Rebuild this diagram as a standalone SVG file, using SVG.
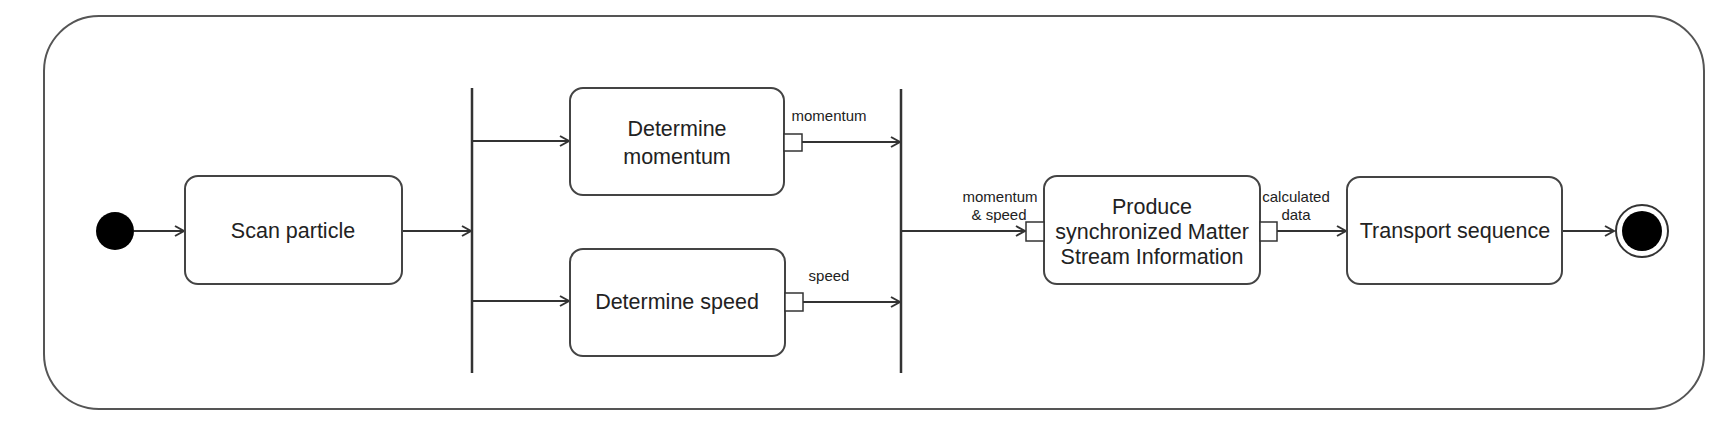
<svg xmlns="http://www.w3.org/2000/svg" width="1725" height="425" viewBox="0 0 1725 425">
<style>
.frame{fill:#fff;stroke:#555;stroke-width:2}
.act{fill:#fff;stroke:#444;stroke-width:2}
.pin{fill:#fff;stroke:#333;stroke-width:1.5}
.bar{stroke:#333;stroke-width:2.5}
.edge{fill:none;stroke:#333;stroke-width:2}
.t{font-family:"Liberation Sans",Arial,sans-serif;font-size:21.5px;fill:#222;text-anchor:middle;dominant-baseline:central}
.s{font-family:"Liberation Sans",Arial,sans-serif;font-size:15px;fill:#222;text-anchor:middle;dominant-baseline:central}
</style>
<defs>
<marker id="arr" markerWidth="12" markerHeight="12" refX="10" refY="6" orient="auto" markerUnits="userSpaceOnUse">
<path d="M1,1 L10,6 L1,11" fill="none" stroke="#333" stroke-width="2"/>
</marker>
</defs>
<rect width="1725" height="425" fill="#fff"/>
<g id="frame"><rect class="frame" x="44" y="16" width="1660" height="393" rx="55" ry="55"/></g>
<g id="connectors">
<line class="edge" x1="134" y1="231" x2="184" y2="231" marker-end="url(#arr)"/>
<line class="edge" x1="402" y1="231" x2="471" y2="231" marker-end="url(#arr)"/>
<line class="edge" x1="473" y1="141" x2="569" y2="141" marker-end="url(#arr)"/>
<line class="edge" x1="473" y1="301" x2="569" y2="301" marker-end="url(#arr)"/>
<line class="edge" x1="802" y1="142" x2="900" y2="142" marker-end="url(#arr)"/>
<line class="edge" x1="803" y1="302" x2="900" y2="302" marker-end="url(#arr)"/>
<line class="edge" x1="901" y1="231" x2="1025" y2="231" marker-end="url(#arr)"/>
<line class="edge" x1="1277" y1="231" x2="1346" y2="231" marker-end="url(#arr)"/>
<line class="edge" x1="1562" y1="231" x2="1614" y2="231" marker-end="url(#arr)"/>
</g>
<g id="initial"><circle cx="115" cy="231" r="19" fill="#000"/></g>
<g id="scan"><rect class="act" x="185" y="176" width="217" height="108" rx="13"/><text class="t" x="293" y="231">Scan particle</text></g>
<g id="fork1"><line class="bar" x1="472" y1="88" x2="472" y2="373"/></g>
<g id="momentum">
<rect class="act" x="570" y="88" width="214" height="107" rx="13"/>
<text class="t" x="677" y="129">Determine</text>
<text class="t" x="677" y="157">momentum</text>
<rect class="pin" x="784" y="134" width="18" height="17"/>
<text class="s" x="829" y="115">momentum</text>
</g>
<g id="speed">
<rect class="act" x="570" y="249" width="215" height="107" rx="13"/>
<text class="t" x="677" y="302">Determine speed</text>
<rect class="pin" x="785" y="293" width="18" height="18"/>
<text class="s" x="829" y="275">speed</text>
</g>
<g id="fork2"><line class="bar" x1="901" y1="89" x2="901" y2="373"/></g>
<g id="produce">
<rect class="act" x="1044" y="176" width="216" height="108" rx="13"/>
<text class="t" x="1152" y="207">Produce</text>
<text class="t" x="1152" y="232">synchronized Matter</text>
<text class="t" x="1152" y="257">Stream Information</text>
<rect class="pin" x="1026" y="222" width="18" height="19"/>
<text class="s" x="1000" y="196">momentum</text>
<text class="s" x="999" y="214">&amp; speed</text>
<rect class="pin" x="1260" y="222" width="17" height="19"/>
<text class="s" x="1296" y="196">calculated</text>
<text class="s" x="1296" y="214">data</text>
</g>
<g id="transport"><rect class="act" x="1347" y="177" width="215" height="107" rx="13"/><text class="t" x="1455" y="231">Transport sequence</text></g>
<g id="final"><circle cx="1642" cy="231" r="26" fill="#fff" stroke="#333" stroke-width="2"/><circle cx="1642" cy="231" r="20" fill="#000"/></g>
</svg>
